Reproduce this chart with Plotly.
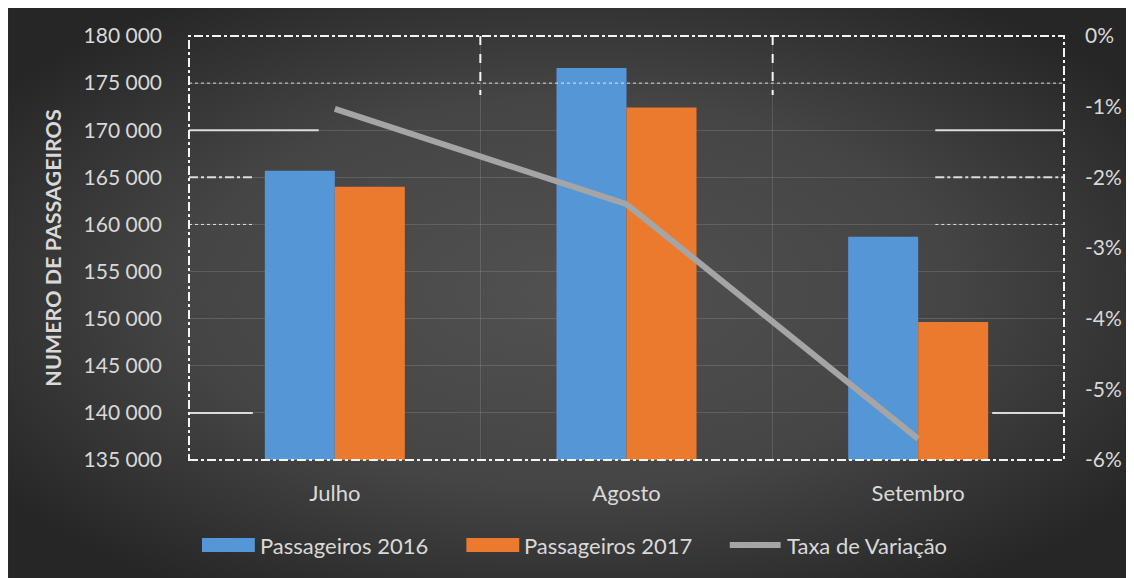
import plotly.graph_objects as go
import base64

# ---- data ----
months = ["Julho", "Agosto", "Setembro"]
pass_2016 = [165700, 176600, 158700]
pass_2017 = [164000, 172400, 149650]
taxa = [-0.0103, -0.0238, -0.0570]

y_ticks = [135000, 140000, 145000, 150000, 155000, 160000, 165000, 170000, 175000, 180000]
y_ticktext = ["135 000", "140 000", "145 000", "150 000", "155 000", "160 000",
              "165 000", "170 000", "175 000", "180 000"]
y2_ticks = [0, -0.01, -0.02, -0.03, -0.04, -0.05, -0.06]
y2_ticktext = ["0%", "-1%", "-2%", "-3%", "-4%", "-5%", "-6%"]

OFF = 8  # page body margin
W, H = 1134 - OFF, 578 - OFF
# plot area in reference (window) pixel coordinates
L, R, T, B = 189, 1066, 36, 460
PW, PH = R - L, B - T

def px(x):
    return (x - L) / PW

def py(y):
    return (B - y) / PH

FONT = "Lato"
TXT = "#d9d9d9"
BLUE = "#5596d6"
ORANGE = "#eb7a2e"
GRAY = "#a5a5a5"

fig = go.Figure()
fig.add_trace(go.Bar(x=months, y=pass_2016, name="Passageiros 2016",
                     marker=dict(color=BLUE, line=dict(width=0))))
fig.add_trace(go.Bar(x=months, y=pass_2017, name="Passageiros 2017",
                     marker=dict(color=ORANGE, line=dict(width=0))))
fig.add_trace(go.Scatter(x=months, y=taxa, name="Taxa de Variação", yaxis="y2",
                         mode="lines", line=dict(color=GRAY, width=6)))

# background radial gradient as svg image
svg = f'''<svg xmlns="http://www.w3.org/2000/svg" width="{W}" height="{H}" preserveAspectRatio="none">
<defs><radialGradient id="g" cx="50%" cy="50%" r="62%">
<stop offset="0%" stop-color="#515151"/>
<stop offset="55%" stop-color="#454545"/>
<stop offset="100%" stop-color="#262626"/>
</radialGradient></defs>
<rect width="100%" height="100%" fill="url(#g)"/></svg>'''
src = "data:image/svg+xml;base64," + base64.b64encode(svg.encode()).decode()

shapes = []
white = "rgba(255,255,255,0.95)"
# dashed border around plot area
shapes.append(dict(type="rect", xref="paper", yref="paper", x0=0, x1=1, y0=0, y1=1,
                   line=dict(color=white, width=2, dash="dashdot"), layer="above"))
# vertical dashed stubs at top
for xb in [481, 774]:
    shapes.append(dict(type="line", xref="paper", yref="paper", x0=px(xb), x1=px(xb),
                       y0=py(36), y1=py(95), line=dict(color=white, width=2, dash="dash")))
# partial horizontal white segments (artifacts)
for (x0, x1, yv, dash, w) in [(189, 319, 170000, "solid", 2), (189, 253, 165000, "dashdot", 2),
                              (937, 1066, 170000, "solid", 2), (937, 1066, 165000, "dashdot", 2),
                              (189, 253, 160000, "dot", 1), (937, 1066, 160000, "dot", 1),
                              (189, 253, 140000, "solid", 2), (994, 1066, 140000, "solid", 2),
                              (189, 1066, 175000, "dot", 1)]:
    shapes.append(dict(type="line", xref="paper", yref="y", x0=px(x0), x1=px(x1),
                       y0=yv, y1=yv, line=dict(color="rgba(255,255,255,0.8)", width=w, dash=dash)))

# custom legend
leg_y = 545
shapes.append(dict(type="rect", xref="paper", yref="paper", x0=px(202), x1=px(255),
                   y0=py(552), y1=py(538), fillcolor=BLUE, line=dict(width=0)))
shapes.append(dict(type="rect", xref="paper", yref="paper", x0=px(467), x1=px(520),
                   y0=py(552), y1=py(538), fillcolor=ORANGE, line=dict(width=0)))
shapes.append(dict(type="line", xref="paper", yref="paper", x0=px(731), x1=px(782),
                   y0=py(leg_y), y1=py(leg_y), line=dict(color=GRAY, width=6)))

annotations = []
for xl, name in [(258, "Passageiros 2016"), (523, "Passageiros 2017"), (786, "Taxa de Variação")]:
    annotations.append(dict(xref="paper", yref="paper", x=px(xl), y=py(leg_y), text=name,
                            showarrow=False, xanchor="left", yanchor="middle",
                            font=dict(family=FONT, size=22, color=TXT)))

fig.update_layout(
    width=W, height=H,
    margin=dict(l=L - OFF, r=1134 - R, t=T - OFF, b=578 - B),
    paper_bgcolor="#2e2e2e",
    plot_bgcolor="rgba(0,0,0,0)",
    barmode="group", bargap=0.52, bargroupgap=0,
    showlegend=False,
    font=dict(family=FONT, size=21, color=TXT),
    images=[dict(source=src, xref="paper", yref="paper",
                 x=(OFF - L) / PW, y=(B - OFF) / PH, sizex=W / PW, sizey=H / PH,
                 xanchor="left", yanchor="top", sizing="stretch", layer="below")],
    xaxis=dict(showgrid=True, gridcolor="rgba(255,255,255,0.13)", gridwidth=1,
               tickson="boundaries", ticks="", showline=False, zeroline=False,
               ticklabelstandoff=18, tickfont=dict(size=22, color=TXT, family=FONT)),
    yaxis=dict(range=[135000, 180000], tickvals=y_ticks, ticktext=y_ticktext,
               showgrid=True, gridcolor="rgba(255,255,255,0.13)", gridwidth=1,
               zeroline=False, showline=False, ticklabelstandoff=26,
               tickfont=dict(size=21, color=TXT, family=FONT),
               title=dict(text="<b>NUMERO DE PASSAGEIROS</b>", standoff=16,
                          font=dict(size=21.5, color=TXT, family=FONT))),
    yaxis2=dict(range=[-0.06, 0], overlaying="y", side="right", tickvals=y2_ticks,
                ticktext=y2_ticktext, showgrid=False, zeroline=False, showline=False,
                ticklabelstandoff=20, tickfont=dict(size=21, color=TXT, family=FONT)),
    shapes=shapes,
    annotations=annotations,
)

fig.write_html("out.html")
